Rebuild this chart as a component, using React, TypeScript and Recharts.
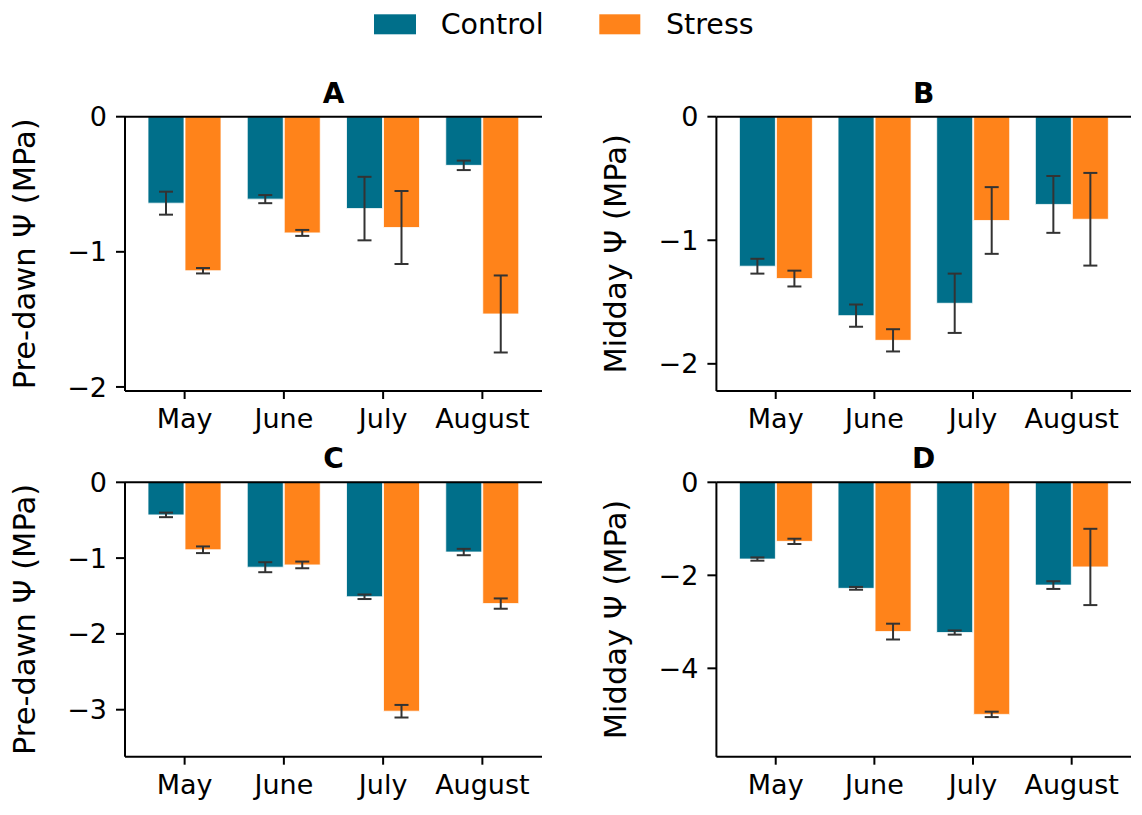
import { Bar, BarChart, ErrorBar, ReferenceLine, XAxis, YAxis } from "recharts";

const months = ["May", "June", "July", "August"];

// A: pre-dawn water potential
const aControl = [-0.64, -0.61, -0.68, -0.36];
const aControlErr = [0.085, 0.03, 0.235, 0.035];
const aStress = [-1.14, -0.86, -0.82, -1.46];
const aStressErr = [0.02, 0.022, 0.27, 0.285];
const aTicks = [0, -1, -2];

// B: midday water potential
const bControl = [-1.21, -1.61, -1.51, -0.71];
const bControlErr = [0.06, 0.09, 0.24, 0.23];
const bStress = [-1.31, -1.81, -0.84, -0.83];
const bStressErr = [0.064, 0.09, 0.27, 0.375];
const bTicks = [0, -1, -2];

// C: pre-dawn water potential
const cControl = [-0.43, -1.12, -1.51, -0.92];
const cControlErr = [0.03, 0.066, 0.03, 0.042];
const cStress = [-0.89, -1.09, -3.02, -1.6];
const cStressErr = [0.044, 0.044, 0.083, 0.068];
const cTicks = [0, -1, -2, -3];

// D: midday water potential
const dControl = [-1.65, -2.28, -3.23, -2.21];
const dControlErr = [0.035, 0.03, 0.045, 0.083];
const dStress = [-1.27, -3.21, -4.99, -1.82];
const dStressErr = [0.057, 0.17, 0.058, 0.82];
const dTicks = [0, -2, -4];

const CONTROL = "#006f8a";
const STRESS = "#ff831a";
const FONT = "DejaVu Sans";

function rows(control: number[], controlErr: number[], stress: number[], stressErr: number[]) {
  return months.map((month, i) => ({
    month,
    control: control[i],
    controlErr: controlErr[i],
    stress: stress[i],
    stressErr: stressErr[i],
  }));
}

const fmt = (v: number) => (v < 0 ? `\u2212${-v}` : `${v}`);

type Rect = { left: number; top: number; right: number; bottom: number };

function Panel({
  data,
  domain,
  ticks,
  left,
  top,
  width,
  height,
  plot,
}: {
  data: ReturnType<typeof rows>;
  domain: [number, number];
  ticks: number[];
  left: number;
  top: number;
  width: number;
  height: number;
  plot: Rect;
}) {
  const xAxisHeight = 40;
  const margin = {
    top: plot.top - top,
    right: left + width - plot.right,
    bottom: top + height - plot.bottom - xAxisHeight,
    left: 0,
  };
  const axisStyle = { stroke: "#000", strokeWidth: 2 };
  const tickStyle = { fill: "#000", fontSize: 27, fontFamily: FONT };
  return (
    <div style={{ position: "absolute", left, top }}>
      <BarChart width={width} height={height} data={data} margin={margin} barSize={36} barGap={1}>
        <XAxis
          dataKey="month"
          height={xAxisHeight}
          padding={{ left: 10, right: 10 }}
          interval={0}
          tickSize={8}
          tickMargin={10}
          axisLine={axisStyle}
          tickLine={axisStyle}
          tick={tickStyle}
        />
        <YAxis
          type="number"
          domain={domain}
          ticks={ticks}
          allowDataOverflow
          width={plot.left - left}
          tickSize={9}
          tickMargin={9}
          tickFormatter={fmt}
          axisLine={axisStyle}
          tickLine={axisStyle}
          tick={tickStyle}
        />
        <Bar dataKey="control" fill={CONTROL} stroke="#fff" strokeWidth={0.8} isAnimationActive={false}>
          <ErrorBar dataKey="controlErr" width={7} stroke="#333" strokeWidth={2} isAnimationActive={false} />
        </Bar>
        <Bar dataKey="stress" fill={STRESS} stroke="#fff" strokeWidth={0.8} isAnimationActive={false}>
          <ErrorBar dataKey="stressErr" width={7} stroke="#333" strokeWidth={2} isAnimationActive={false} />
        </Bar>
        <ReferenceLine y={0} stroke="#000" strokeWidth={2} />
      </BarChart>
    </div>
  );
}

const leftPlot = { left: 125, right: 542 };
const rightPlot = { left: 716.4, right: 1131 };
const topPlot = { top: 116.7, bottom: 391 };
const bottomPlot = { top: 482.3, bottom: 756.7 };

export default function App() {
  const titleY = [103, 468];
  const labelY = [(topPlot.top + topPlot.bottom) / 2, (bottomPlot.top + bottomPlot.bottom) / 2];
  const centerX = [(leftPlot.left + leftPlot.right) / 2, (rightPlot.left + rightPlot.right) / 2];
  const labelX = [35, 626];
  return (
    <div style={{ position: "absolute", left: 0, top: 0, width: 1142, height: 815, background: "#fff" }}>
      <Panel
        data={rows(aControl, aControlErr, aStress, aStressErr)}
        domain={[-2.03, 0]}
        ticks={aTicks}
        left={0}
        top={50}
        width={560}
        height={390}
        plot={{ ...leftPlot, ...topPlot }}
      />
      <Panel
        data={rows(bControl, bControlErr, bStress, bStressErr)}
        domain={[-2.22, 0]}
        ticks={bTicks}
        left={580}
        top={50}
        width={562}
        height={390}
        plot={{ ...rightPlot, ...topPlot }}
      />
      <Panel
        data={rows(cControl, cControlErr, cStress, cStressErr)}
        domain={[-3.62, 0]}
        ticks={cTicks}
        left={0}
        top={440}
        width={560}
        height={375}
        plot={{ ...leftPlot, ...bottomPlot }}
      />
      <Panel
        data={rows(dControl, dControlErr, dStress, dStressErr)}
        domain={[-5.9, 0]}
        ticks={dTicks}
        left={580}
        top={440}
        width={562}
        height={375}
        plot={{ ...rightPlot, ...bottomPlot }}
      />
      <svg
        width={1142}
        height={815}
        style={{ position: "absolute", left: 0, top: 0, pointerEvents: "none" }}
        fontFamily={FONT}
      >
        <rect x={374} y={14.3} width={42} height={20} fill={CONTROL} />
        <text x={440.7} y={34.3} fontSize={28.5} fill="#000">Control</text>
        <rect x={599.3} y={14.3} width={41} height={20} fill={STRESS} />
        <text x={666} y={34.3} fontSize={28.5} fill="#000">Stress</text>

        {["A", "B", "C", "D"].map((t, i) => (
          <text
            key={t}
            x={centerX[i % 2]}
            y={titleY[Math.floor(i / 2)]}
            fontSize={28}
            fontWeight="bold"
            textAnchor="middle"
            fill="#000"
          >
            {t}
          </text>
        ))}

        {["Pre-dawn Ψ (MPa)", "Midday Ψ (MPa)", "Pre-dawn Ψ (MPa)", "Midday Ψ (MPa)"].map((t, i) => {
          const x = labelX[i % 2];
          const y = labelY[Math.floor(i / 2)];
          return (
            <text
              key={i}
              x={x}
              y={y}
              fontSize={30.5}
              textAnchor="middle"
              transform={`rotate(-90 ${x} ${y})`}
              fill="#000"
            >
              {t}
            </text>
          );
        })}
      </svg>
    </div>
  );
}
